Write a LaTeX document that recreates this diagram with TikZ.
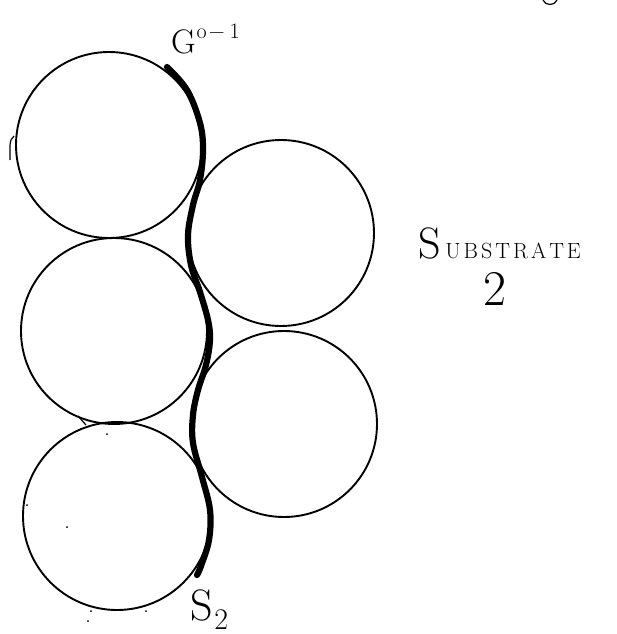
\documentclass[tikz,border=0pt]{standalone}
\usepackage{fontspec}
\setmainfont{Latin Modern Roman}
\begin{document}
\begin{tikzpicture}[x=1pt,y=-1pt,
  ball/.style={circle,draw=black,line width=1.9pt,inner sep=0pt,minimum size=#1},
  ball/.default=186pt,
  lbl/.style={inner sep=0pt,outer sep=0pt,text=black},
  thin/.style={line width=1.2pt},
  speck/.style={fill=black,inner sep=0pt,minimum size=2pt,circle}]
\useasboundingbox (0,0) rectangle (617,634);
% spheres
\node[ball] (c1) at (109,145) {};
\node[ball] (c2) at (114,331) {};
\node[ball=188pt] (c3) at (117,516) {};
\node[ball] (c4) at (281,233) {};
\node[ball] (c5) at (284,424) {};
% thick interface line
\coordinate (top) at (167,67);
\coordinate (bot) at (197,575);
\draw[line width=6.2pt,line cap=round,line join=round]
  plot[smooth,tension=0.6] coordinates {(167,67) (187,90) (200,123) (203,150) (200,180) (193,205) (188,235) (191,265) (200,292) (208,320) (210,340) (206,365) (198,390) (193,415) (193,443) (202,477) (210,510) (209,540) (201,566) (197,575)};
% labels
\node[lbl,anchor=base west] (g) at (171,53) {\fontsize{34}{34}\selectfont G\hspace{1pt}\raisebox{15pt}{\fontsize{22}{22}\selectfont o\hspace{2pt}−\hspace{5pt}1}};
\node[lbl,anchor=base west] (sub) at (418,258) {{\fontsize{44}{44}\selectfont S}\hspace{5pt}{\fontsize{22}{22}\selectfont U\hspace{3pt}B\hspace{3pt}S\hspace{3pt}T\hspace{3pt}R\hspace{3pt}A\hspace{3pt}T\hspace{3pt}E}};
\node[lbl] (two) at (495,289) {\fontsize{50}{50}\selectfont 2};
\node[lbl,anchor=base west] (s2) at (190,620) {\fontsize{44}{44}\selectfont S\hspace{2pt}\raisebox{-9pt}{\fontsize{30}{30}\selectfont 2}};
% stray marks
\draw[thin] (14,136) .. controls (9,140) and (10,146) .. (10,160);
\draw[thin] (78,416) -- (86,425);
\draw[thin] (543,0) .. controls (545,6) and (555,6) .. (557,0);
\node[speck] (d1) at (107,434) {};
\node[speck] (d2) at (27,505) {};
\node[speck] (d3) at (67,527) {};
\node[speck] (d4) at (91,611) {};
\node[speck] (d5) at (88,621) {};
\node[speck] (d6) at (146,611) {};
\end{tikzpicture}
\end{document}
